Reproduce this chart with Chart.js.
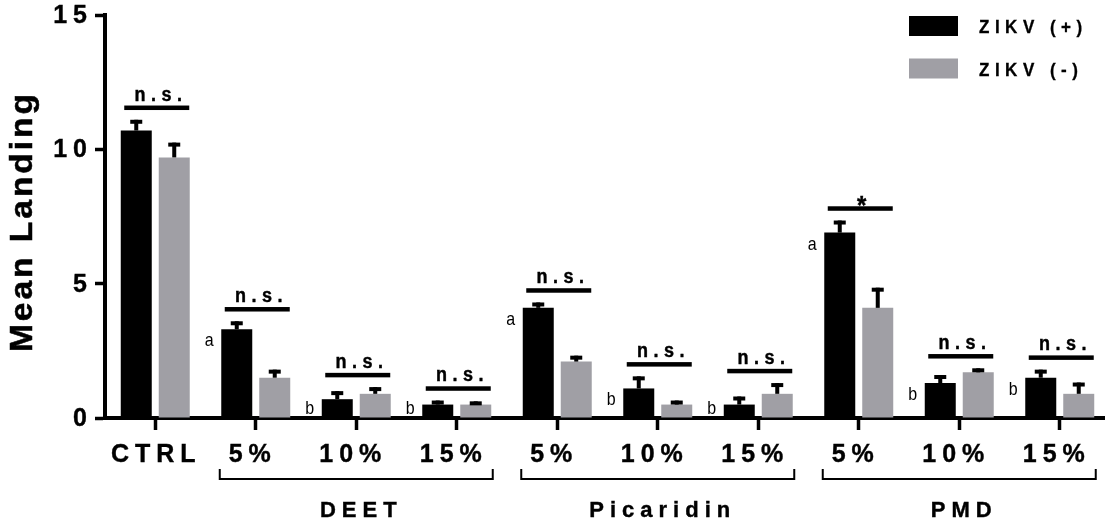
<!DOCTYPE html>
<html>
<head>
<meta charset="utf-8">
<script src="https://cdn.jsdelivr.net/npm/chart.js@4/dist/chart.umd.min.js"></script>
<style>
  html, body { margin: 0; padding: 0; background: #ffffff; overflow: hidden; }
  canvas { display: block; }
</style>
</head>
<body>
<canvas id="chart" width="1110" height="527"></canvas>
<script>
// ---- data ----
const categories = ['CTRL', '5%', '10%', '15%', '5%', '10%', '15%', '5%', '10%', '15%'];
const groupNames = ['DEET', 'Picaridin', 'PMD'];
const groupFirst = [1, 4, 7];
const groupLast = [3, 6, 9];
const seriesNames = ['ZIKV (+)', 'ZIKV (-)'];
const zikvPos = [10.7, 3.3, 0.7, 0.5, 4.1, 1.1, 0.5, 6.9, 1.3, 1.5];
const zikvPosErr = [0.4, 0.3, 0.3, 0.15, 0.2, 0.45, 0.3, 0.45, 0.3, 0.3];
const zikvNeg = [9.7, 1.5, 0.9, 0.5, 2.1, 0.5, 0.9, 4.1, 1.7, 0.9];
const zikvNegErr = [0.55, 0.3, 0.25, 0.12, 0.22, 0.15, 0.4, 0.75, 0.15, 0.42];
const significance = ['n.s.', 'n.s.', 'n.s.', 'n.s.', 'n.s.', 'n.s.', 'n.s.', '*', 'n.s.', 'n.s.'];
const groupLetters = ['', 'a', 'b', 'b', 'a', 'b', 'b', 'a', 'b', 'b'];
const yTicks = [0, 5, 10, 15];
const yTitle = 'Mean Landing';

// ---- styling ----
const BLACK = '#000000';
const GREY = '#a09fa5';
const FONT = '"Liberation Sans", Arial, Helvetica, sans-serif';

// Draws text one glyph at a time with extra tracking, optionally rotated / stretched.
function spacedText(ctx, text, x, y, o) {
  const font = o.font, spacing = o.spacing || 0;
  ctx.save();
  ctx.font = font;
  ctx.fillStyle = o.color || BLACK;
  const chars = [...text];
  const widths = chars.map(ch => ctx.measureText(ch).width);
  const total = widths.reduce((a, b) => a + b, 0) + spacing * (chars.length - 1);
  let start = 0;
  if (o.align === 'center') start = -total / 2;
  else if (o.align === 'right') start = -total;
  ctx.translate(x, y);
  if (o.rotate) ctx.rotate(o.rotate);
  ctx.scale(o.sx || 1, o.sy || 1);
  ctx.textAlign = 'left';
  ctx.textBaseline = o.baseline || 'middle';
  let cx = start;
  chars.forEach((ch, i) => {
    ctx.fillText(ch, cx, 0);
    if (o.stroke) {
      ctx.lineWidth = o.stroke;
      ctx.strokeStyle = o.color || BLACK;
      ctx.strokeText(ch, cx, 0);
    }
    cx += widths[i] + spacing;
  });
  ctx.restore();
}

const decorations = {
  id: 'decorations',
  afterDatasetsDraw(chart) {
    const ctx = chart.ctx;
    const xs = chart.scales.x, ys = chart.scales.y;
    const errs = [zikvPosErr, zikvNegErr];
    const vals = [zikvPos, zikvNeg];

    // upward error bars
    ctx.save();
    ctx.fillStyle = BLACK;
    for (let d = 0; d < 2; d++) {
      const meta = chart.getDatasetMeta(d);
      meta.data.forEach((bar, j) => {
        const top = ys.getPixelForValue(vals[d][j] + errs[d][j]);
        const stem = 4, capW = 12, capH = 4;
        ctx.fillRect(bar.x - stem / 2, top, stem, bar.y - top);
        ctx.fillRect(bar.x - capW / 2, top, capW, capH);
      });
    }
    ctx.restore();

    // significance bars and labels
    categories.forEach((c, j) => {
      const cx = xs.getPixelForValue(j);
      const maxTop = Math.max(zikvPos[j] + zikvPosErr[j], zikvNeg[j] + zikvNegErr[j]);
      const lineY = ys.getPixelForValue(maxTop) - 12;
      const thick = 4.5;
      ctx.save();
      ctx.fillStyle = BLACK;
      ctx.fillRect(cx - 31, lineY - thick / 2, 65, thick);
      ctx.restore();
      const label = significance[j];
      const star = label === '*';
      const font = (star ? 'bold 24px ' : 'bold 18px ') + FONT;
      ctx.save();
      ctx.font = font;
      const m = ctx.measureText(label);
      ctx.restore();
      const gap = star ? 0 : 5;
      const baseY = lineY - thick / 2 - gap - (star ? m.actualBoundingBoxDescent : 0);
      spacedText(ctx, label, cx + 3, baseY, {
        font: font, spacing: star ? 0 : 5.5, align: 'center', baseline: 'alphabetic',
        sy: 1.08, stroke: 0.4
      });

      // letter beside the ZIKV (+) bar
      if (groupLetters[j]) {
        const bar = chart.getDatasetMeta(0).data[j];
        const lx = bar.x - bar.width / 2 - 12;
        const ly = Math.min(bar.y + 12, 409);
        spacedText(ctx, groupLetters[j], lx, ly, {
          font: '16px ' + FONT, align: 'center', sy: 1.12
        });
      }
    });
  },
  afterDraw(chart) {
    const ctx = chart.ctx;
    const xs = chart.scales.x, ys = chart.scales.y;

    // y tick labels
    yTicks.forEach(v => {
      spacedText(ctx, String(v), 87, ys.getPixelForValue(v) + 1, {
        font: 'bold 25px ' + FONT, spacing: 6, align: 'right', sy: 1.04, stroke: 0.4
      });
    });

    // y axis title
    spacedText(ctx, yTitle, 23, 223, {
      font: 'bold 32px ' + FONT, spacing: 2.8, align: 'center',
      rotate: -Math.PI / 2, sx: 1.05, stroke: 0.5
    });

    // category labels
    categories.forEach((c, j) => {
      spacedText(ctx, c, xs.getPixelForValue(j) - (j === 0 ? 2 : 6), 455, {
        font: 'bold 25px ' + FONT, spacing: 6, align: 'center', sy: 1.04, stroke: 0.4
      });
    });

    // group brackets and names
    groupNames.forEach((g, k) => {
      const x1 = xs.getPixelForValue(groupFirst[k]) - 36;
      const x2 = xs.getPixelForValue(groupLast[k]) + 36;
      ctx.save();
      ctx.strokeStyle = BLACK;
      ctx.lineWidth = 2;
      ctx.beginPath();
      ctx.moveTo(x1, 469);
      ctx.lineTo(x1, 479);
      ctx.lineTo(x2, 479);
      ctx.lineTo(x2, 469);
      ctx.stroke();
      ctx.restore();
      spacedText(ctx, g, (x1 + x2) / 2 + 2, 511, {
        font: 'bold 22px ' + FONT, spacing: 6, align: 'center', sy: 1.04, stroke: 0.4
      });
    });

    // legend
    const colors = [BLACK, GREY];
    const rowY = [26, 68.5];
    seriesNames.forEach((s, i) => {
      ctx.save();
      ctx.fillStyle = colors[i];
      ctx.fillRect(909, rowY[i] - 10, 49, 20);
      ctx.restore();
      spacedText(ctx, s, 979, rowY[i] + 2, {
        font: 'bold 17px ' + FONT, spacing: 5.5, align: 'left', sy: 1.08, stroke: 0.3
      });
    });
  }
};

new Chart(document.getElementById('chart'), {
  type: 'bar',
  data: {
    labels: categories,
    datasets: [
      { label: seriesNames[0], data: zikvPos, backgroundColor: BLACK, borderWidth: 0 },
      { label: seriesNames[1], data: zikvNeg, backgroundColor: GREY, borderWidth: 0 }
    ]
  },
  options: {
    responsive: false,
    animation: false,
    devicePixelRatio: 1,
    layout: { padding: { top: 15, right: 0, left: 0, bottom: 0 } },
    datasets: { bar: { categoryPercentage: 0.756, barPercentage: 0.816 } },
    plugins: { legend: { display: false }, tooltip: { enabled: false } },
    scales: {
      x: {
        grid: {
          display: true, drawOnChartArea: false, drawTicks: true, offset: false,
          tickLength: 12, tickWidth: 3.5, tickColor: BLACK
        },
        border: { display: true, color: BLACK, width: 4 },
        ticks: { display: false },
        afterFit(scale) { scale.height = 109; }
      },
      y: {
        min: 0, max: 15,
        grid: {
          display: true, drawOnChartArea: false, drawTicks: true,
          tickLength: 10, tickWidth: 3.5, tickColor: BLACK
        },
        border: { display: true, color: BLACK, width: 4 },
        ticks: { display: false, stepSize: 5 },
        afterFit(scale) { scale.width = 105; }
      }
    }
  },
  plugins: [decorations]
});
</script>
</body>
</html>
